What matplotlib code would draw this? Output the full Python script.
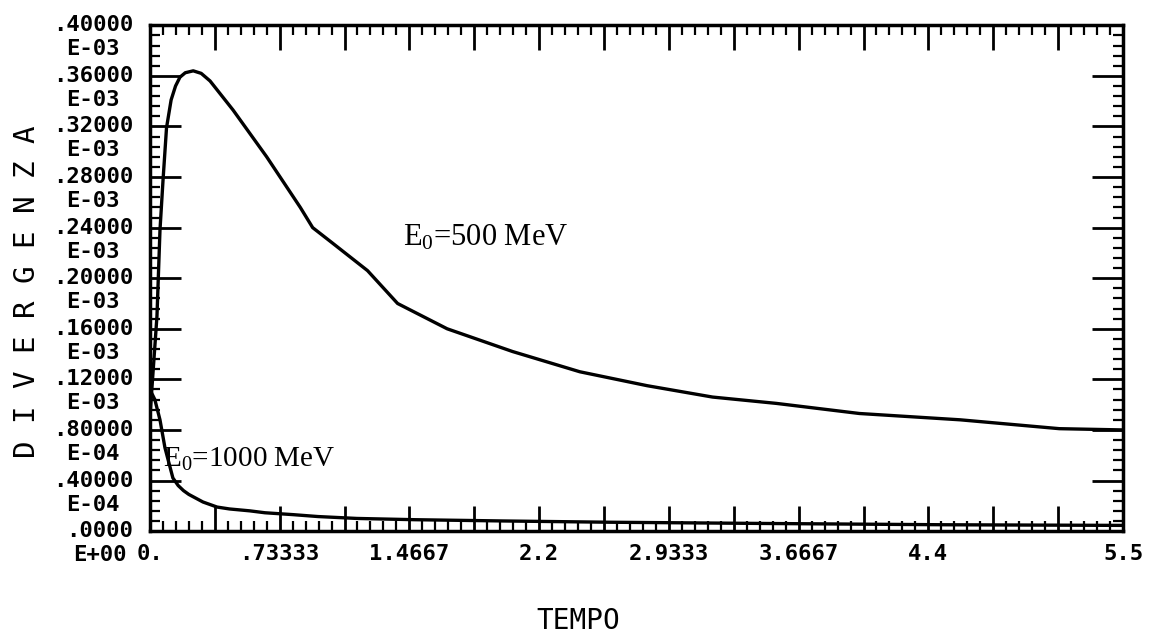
import matplotlib
matplotlib.use("Agg")
import matplotlib.pyplot as plt
from matplotlib.ticker import FixedLocator, MultipleLocator, FixedFormatter
from matplotlib.transforms import ScaledTranslation

plt.rcParams["mathtext.fontset"] = "custom"
plt.rcParams["mathtext.rm"] = "Liberation Serif"
plt.rcParams["mathtext.it"] = "Liberation Serif:italic"

# divergence values in units of 1e-3
t_500 = [0.0, 0.02, 0.04, 0.057, 0.074, 0.094, 0.12, 0.145, 0.17, 0.2, 0.245,
         0.29, 0.34, 0.47, 0.66, 0.85, 0.92, 1.03, 1.23, 1.40, 1.68, 2.05,
         2.43, 2.81, 3.18, 3.54, 4.01, 4.58, 5.14, 5.5]
d_500 = [0.09, 0.13, 0.17, 0.238, 0.277, 0.319, 0.341, 0.352, 0.359, 0.3625,
         0.364, 0.362, 0.356, 0.333, 0.296, 0.256, 0.240, 0.228, 0.206, 0.180,
         0.160, 0.142, 0.126, 0.115, 0.106, 0.101, 0.093, 0.088, 0.081, 0.080]

t_1000 = [0.0, 0.028, 0.057, 0.085, 0.13, 0.16, 0.19, 0.22, 0.26, 0.3, 0.38,
          0.45, 0.565, 0.65, 0.81, 0.95, 1.17, 1.5, 2.0, 2.6, 3.5, 4.5, 5.5]
d_1000 = [0.112, 0.104, 0.088, 0.066, 0.042, 0.036, 0.032, 0.029, 0.026,
          0.023, 0.019, 0.0175, 0.016, 0.0145, 0.013, 0.0115, 0.010, 0.009,
          0.008, 0.007, 0.006, 0.005, 0.0045]

x_ticks = [i * 5.5 / 15 for i in range(16)]
x_labels = ["0.", "", ".73333", "", "1.4667", "", "2.2", "", "2.9333", "",
            "3.6667", "", "4.4", "", "", "5.5"]
y_ticks = [i * 0.04 for i in range(11)]
y_labels = [".0000\nE+00", ".40000\nE-04", ".80000\nE-04", ".12000\nE-03",
            ".16000\nE-03", ".20000\nE-03", ".24000\nE-03", ".28000\nE-03",
            ".32000\nE-03", ".36000\nE-03", ".40000\nE-03"]

MONO = "DejaVu Sans Mono"

fig = plt.figure(figsize=(11.53, 6.33), dpi=100)
ax = fig.add_axes([0.130, 0.161, 0.844, 0.799])

ax.plot(t_500, d_500, color="black", lw=2.4)
ax.plot(t_1000, d_1000, color="black", lw=2.4)

ax.set_xlim(0, 5.5)
ax.set_ylim(0, 0.4)

ax.xaxis.set_major_locator(FixedLocator(x_ticks))
ax.xaxis.set_major_formatter(FixedFormatter(x_labels))
ax.xaxis.set_minor_locator(MultipleLocator(5.5 / 75))
ax.yaxis.set_major_locator(FixedLocator(y_ticks))
ax.yaxis.set_major_formatter(FixedFormatter(y_labels))
ax.yaxis.set_minor_locator(MultipleLocator(0.008))

ax.tick_params(axis="both", which="both", direction="in", top=True, right=True,
               color="black")
ax.tick_params(axis="x", which="major", length=18, width=2, pad=9)
ax.tick_params(axis="y", which="major", length=22, width=2, pad=12)
ax.tick_params(axis="both", which="minor", length=7, width=1.6)

for lab in ax.get_xticklabels():
    lab.set_fontfamily(MONO)
    lab.set_fontsize(16)
    lab.set_fontweight("bold")
shift = ScaledTranslation(0, 0.10, fig.dpi_scale_trans)
for lab in ax.get_yticklabels():
    lab.set_fontfamily(MONO)
    lab.set_fontsize(16)
    lab.set_fontweight("bold")
    lab.set_linespacing(1.25)
    lab.set_multialignment("center")
    lab.set_verticalalignment("top")
    lab.set_transform(lab.get_transform() + shift)

for sp in ax.spines.values():
    sp.set_linewidth(2.5)

ax.set_ylabel("D I V E R G E N Z A", fontfamily=MONO, fontsize=21)
ax.yaxis.set_label_coords(-0.112, 0.474)
ax.set_xlabel("TEMPO", fontfamily=MONO, fontsize=20)
ax.xaxis.set_label_coords(0.44, -0.15)

ax.text(1.43, 0.232, "E$_0$=500 MeV", fontfamily="Liberation Serif",
        fontsize=22, ha="left", va="center")
ax.text(0.073, 0.057, "E$_0$=1000 MeV", fontfamily="Liberation Serif",
        fontsize=21, ha="left", va="center")

fig.savefig("out.png", dpi=100)
